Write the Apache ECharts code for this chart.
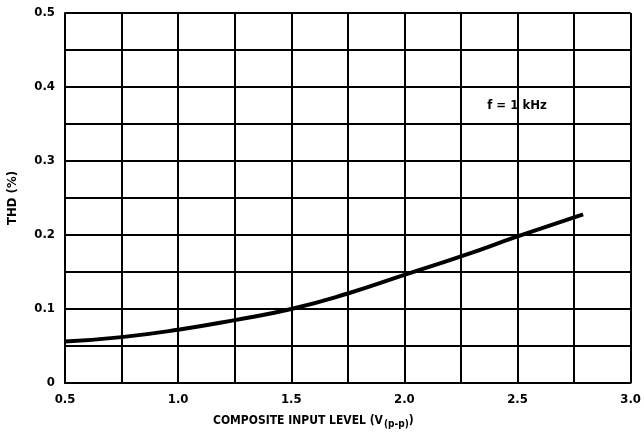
<!DOCTYPE html>
<html>
<head>
<meta charset="utf-8">
<script src="https://cdn.jsdelivr.net/npm/echarts@6/dist/echarts.min.js"></script>
<style>
  html, body { margin: 0; padding: 0; background: #fff; }
  #chart { width: 644px; height: 434px; }
</style>
</head>
<body>
<div id="chart"></div>
<script>
// composite input level (V p-p) vs THD (%)
const inputLevel = [0.5, 0.75, 1.0, 1.25, 1.5, 1.75, 2.0, 2.25, 2.5, 2.79]
const thd = [0.056, 0.062, 0.072, 0.085, 0.100, 0.121, 0.146, 0.171, 0.198, 0.228]
const xLabels = ['0.5', '1.0', '1.5', '2.0', '2.5', '3.0']
const yLabels = ['0', '0.1', '0.2', '0.3', '0.4', '0.5']

const font = '"DejaVu Sans Condensed", "Liberation Sans Narrow", sans-serif'
const chart = echarts.init(document.getElementById('chart'))

const option = {
  animation: false,
  backgroundColor: '#fff',
  grid: {
    left: 65,
    right: 11,
    top: 13,
    bottom: 51,
  },
  xAxis: {
    type: 'value',
    min: 0.5,
    max: 3.0,
    interval: 0.25,
    axisLine: { show: true, lineStyle: { color: '#000', width: 2 } },
    axisTick: { show: false },
    splitLine: { show: true, lineStyle: { color: '#000', width: 2 } },
    axisLabel: {
      color: '#000',
      fontFamily: font,
      fontWeight: 'bold',
      fontSize: 13,
      margin: 10,
      formatter: (v) => {
        const s = v.toFixed(1)
        return xLabels.includes(s) && Math.abs(v * 2 - Math.round(v * 2)) < 1e-6 ? s : ''
      },
    },
  },
  yAxis: {
    type: 'value',
    min: 0,
    max: 0.5,
    interval: 0.05,
    axisLine: { show: true, lineStyle: { color: '#000', width: 2 } },
    axisTick: { show: false },
    splitLine: { show: true, lineStyle: { color: '#000', width: 2 } },
    axisLabel: {
      color: '#000',
      fontFamily: font,
      fontWeight: 'bold',
      fontSize: 13,
      margin: 10,
      formatter: (v) => {
        const i = Math.round(v * 10)
        return Math.abs(v * 10 - i) < 1e-6 ? yLabels[i] : ''
      },
    },
  },
  graphic: [
    {
      type: 'text',
      x: 517,
      y: 106,
      style: {
        text: 'f = 1 kHz',
        font: 'bold 13px ' + font,
        fill: '#000',
        align: 'center',
        verticalAlign: 'middle',
      },
    },
    {
      type: 'text',
      x: 13,
      y: 198,
      rotation: Math.PI / 2,
      style: {
        text: 'THD (%)',
        font: 'bold 13px ' + font,
        fill: '#000',
        align: 'center',
        verticalAlign: 'middle',
      },
    },
    {
      type: 'text',
      x: 213,
      y: 421,
      style: {
        text: '{m|COMPOSITE INPUT LEVEL (V}{s|(p-p)}{m|)}',
        verticalAlign: 'middle',
        rich: {
          m: { font: 'bold 12px ' + font, fill: '#000' },
          s: { font: 'bold 10px ' + font, fill: '#000', padding: [6, 0, 0, 1] },
        },
      },
    },
  ],
  series: [
    {
      type: 'line',
      data: inputLevel.map((x, i) => [x, thd[i]]),
      smooth: true,
      symbol: 'none',
      lineStyle: { color: '#000', width: 4 },
    },
  ],
}

chart.setOption(option)
</script>
</body>
</html>
